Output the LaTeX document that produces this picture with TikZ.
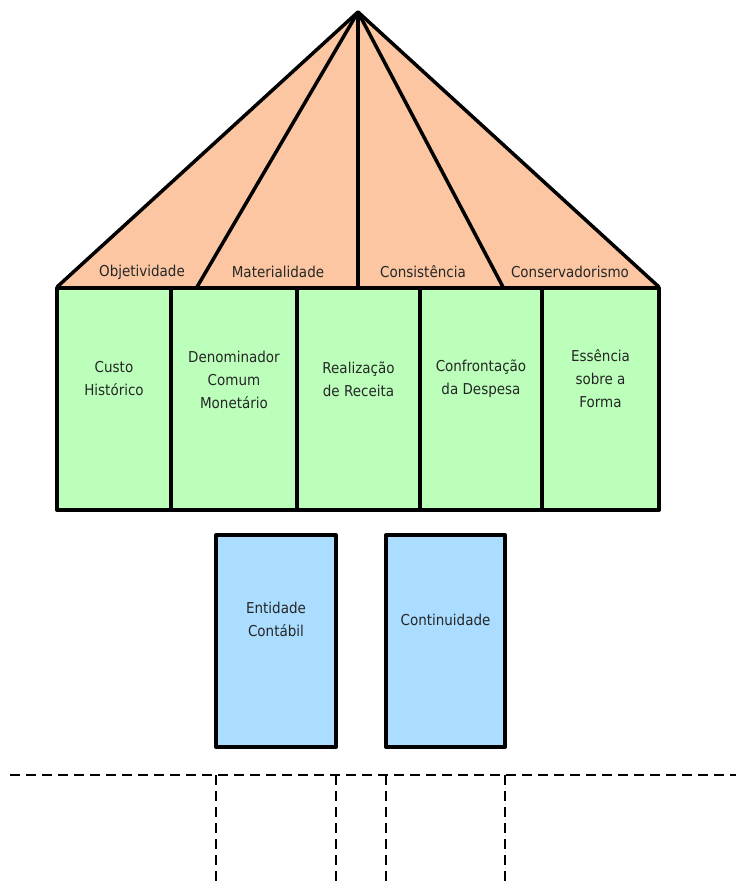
\documentclass[tikz,border=0pt]{standalone}
\usepackage{fontspec}
\setmainfont{DejaVu Sans Condensed}
\usetikzlibrary{positioning}
\definecolor{roofcolor}{RGB}{251,198,161}
\definecolor{greencolor}{RGB}{187,255,187}
\definecolor{bluecolor}{RGB}{170,221,255}

\begin{document}
\begin{tikzpicture}[x=1pt, y=-1pt, line join=round]

\tikzset{
  pillar/.style={draw, line width=4pt, fill=greencolor, minimum height=222pt, inner sep=0pt, outer sep=0pt, anchor=north west},
  footing/.style={draw, line width=4pt, fill=bluecolor, minimum height=212pt, inner sep=0pt, outer sep=0pt, anchor=north west},
  lbl/.style={font=\fontsize{15}{23}\selectfont, align=center, text=black!85},
  ground/.style={line width=2pt, dash pattern=on 10pt off 6pt}
}

\useasboundingbox (0,0) rectangle (736,881);

% Roof
\coordinate (top) at (358,12);
\coordinate (r0) at (57,287);
\coordinate (r1) at (197,287);
\coordinate (r2) at (358,287);
\coordinate (r3) at (503,287);
\coordinate (r4) at (659,287);
\fill[roofcolor] (r0) -- (top) -- (r4) -- cycle;
\draw[line width=3.5pt] (r0) -- (top) -- (r4);
\draw[line width=3.5pt] (top) -- (r1);
\draw[line width=3.5pt] (top) -- (r2);
\draw[line width=3.5pt] (top) -- (r3);

\node[lbl] (obj) at (142,272) {Objetividade};
\node[lbl] (mat) at (278,272) {Materialidade};
\node[lbl] (cons) at (423,272) {Consistência};
\node[lbl] (conserv) at (570,272) {Conservadorismo};

% Pillars
\node[pillar, minimum width=114pt] (p1) at (57,288) {};
\node[pillar, minimum width=126pt] (p2) at (171,288) {};
\node[pillar, minimum width=123pt] (p3) at (297,288) {};
\node[pillar, minimum width=122pt] (p4) at (420,288) {};
\node[pillar, minimum width=117pt] (p5) at (542,288) {};

\node[lbl] (t1) at ([yshift=20pt]p1.center) {Custo\\Histórico};
\node[lbl] (t2) at ([yshift=19pt]p2.center) {Denominador\\Comum\\Monetário};
\node[lbl] (t3) at ([yshift=20pt]p3.center) {Realização\\de Receita};
\node[lbl] (t4) at ([yshift=20pt]p4.center) {Confrontação\\da Despesa};
\node[lbl] (t5) at ([yshift=20pt]p5.center) {Essência\\sobre a\\Forma};

% Base
\node[footing, minimum width=120pt] (ent) at (216,535) {};
\node[footing, minimum width=119pt] (cont) at (386,535) {};
\node[lbl] (t6) at ([yshift=22pt]ent.center) {Entidade\\Contábil};
\node[lbl] (t7) at ([yshift=21pt]cont.center) {Continuidade};

% Ground
\coordinate (gl) at (10,775);
\coordinate (gr) at (736,775);
\draw[ground] (gl) -- (gr);
\draw[ground] (ent.south west |- gl) -- (ent.south west |- 0,881);
\draw[ground] (ent.south east |- gl) -- (ent.south east |- 0,881);
\draw[ground] (cont.south west |- gl) -- (cont.south west |- 0,881);
\draw[ground] (cont.south east |- gl) -- (cont.south east |- 0,881);

\end{tikzpicture}
\end{document}
